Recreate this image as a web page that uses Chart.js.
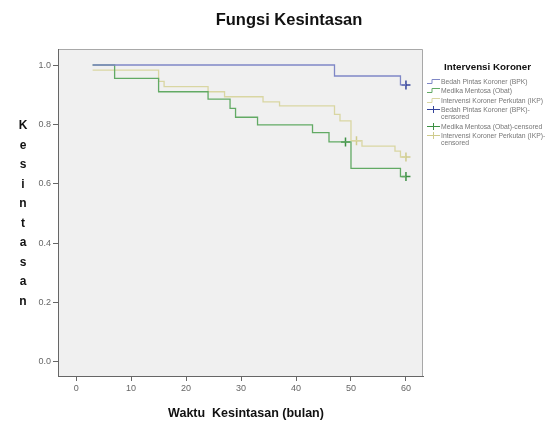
<!DOCTYPE html>
<html>
<head>
<meta charset="utf-8">
<script src="https://cdn.jsdelivr.net/npm/chart.js@4/dist/chart.umd.min.js"></script>
<style>
    body { margin: 0; background: #fff; font-family: "Liberation Sans", Arial, sans-serif; }
    #wrap { position: relative; width: 551px; height: 425px; }
    #legend { position: absolute; left: 427px; top: 60px; width: 124px; color: #777; font-size: 6.8px; }
    #legend .lg-title { font-weight: bold; font-size: 9.8px; color: #111; margin-left: 17px; height: 14px; line-height: 14px; margin-bottom: 3.5px; white-space: nowrap; }
    #legend .item { display: flex; align-items: flex-start; margin-bottom: 2.5px; line-height: 7px; }
    #legend .item span { max-width: 106px; }
    #legend svg { flex: none; margin-right: 0; }
</style>
</head>
<body>
<div id="wrap">
    <canvas id="km"></canvas>
    <div id="legend"></div>
</div>
<script>
// Waktu kesintasan (bulan) dan estimasi fungsi kesintasan per kelompok
const bpkTime = [3, 47, 59, 60];
const bpkSurv = [1.0, 0.963, 0.933, 0.933];
const obatTime = [3, 7, 15, 24, 28, 29, 33, 43, 46, 50, 59, 60];
const obatSurv = [1.0, 0.955, 0.91, 0.885, 0.854, 0.824, 0.798, 0.772, 0.741, 0.652, 0.624, 0.624];
const ikpTime = [3, 15, 16, 24, 27, 34, 37, 47, 48, 50, 52, 58, 59, 60];
const ikpSurv = [0.983, 0.945, 0.927, 0.91, 0.893, 0.876, 0.862, 0.834, 0.812, 0.745, 0.727, 0.71, 0.69, 0.69];

// titik tersensor
const bpkCensTime = [60];
const bpkCensSurv = [0.933];
const obatCensTime = [49, 60];
const obatCensSurv = [0.741, 0.624];
const ikpCensTime = [51, 60];
const ikpCensSurv = [0.745, 0.69];

const xTicks = [0, 10, 20, 30, 40, 50, 60];
const yTicks = [0.0, 0.2, 0.4, 0.6, 0.8, 1.0];

const groupLabels = ['Bedah Pintas Koroner (BPK)', 'Medika Mentosa (Obat)', 'Intervensi Koroner Perkutan (IKP)'];
const lineColors = ['#7f87c6', '#62aa64', '#d9d6a2'];
const censColors = ['#34439a', '#3d9044', '#cfcb8c'];

const toPoints = (xs, ys) => xs.map((x, i) => ({ x: x, y: ys[i] }));

const lineSets = [[bpkTime, bpkSurv], [obatTime, obatSurv], [ikpTime, ikpSurv]];
const censSets = [[bpkCensTime, bpkCensSurv], [obatCensTime, obatCensSurv], [ikpCensTime, ikpCensSurv]];

const datasets = [];
lineSets.forEach((s, i) => {
    datasets.push({
        label: groupLabels[i],
        data: toPoints(s[0], s[1]),
        showLine: true,
        stepped: true,
        borderColor: lineColors[i],
        borderWidth: 1.3,
        pointRadius: 0,
        fill: false
    });
});
censSets.forEach((s, i) => {
    datasets.push({
        label: groupLabels[i] + '-censored',
        data: toPoints(s[0], s[1]),
        showLine: false,
        pointStyle: 'cross',
        pointRadius: 4.5,
        borderColor: censColors[i],
        borderWidth: 1.5
    });
});

const frame = {
    id: 'frame',
    beforeDraw(chart) {
        const { ctx, chartArea: a } = chart;
        ctx.save();
        ctx.fillStyle = '#f0f0f0';
        ctx.fillRect(a.left, a.top, a.right - a.left, a.bottom - a.top);
        ctx.strokeStyle = '#a8a8a8';
        ctx.lineWidth = 1;
        ctx.beginPath();
        ctx.moveTo(a.left, a.top + 0.5);
        ctx.lineTo(a.right - 0.5, a.top + 0.5);
        ctx.lineTo(a.right - 0.5, a.bottom);
        ctx.stroke();
        ctx.restore();
    },
    afterDraw(chart) {
        const { ctx } = chart;
        ctx.save();
        ctx.fillStyle = '#111';
        ctx.textAlign = 'center';
        ctx.textBaseline = 'middle';
        ctx.font = 'bold 16.5px "Liberation Sans", Arial, sans-serif';
        ctx.fillText('Fungsi Kesintasan', 289, 20);
        ctx.font = 'bold 12.5px "Liberation Sans", Arial, sans-serif';
        ctx.fillText('Waktu  Kesintasan (bulan)', 246, 414);
        const letters = 'Kesintasan'.split('');
        ctx.font = 'bold 12px "Liberation Sans", Arial, sans-serif';
        letters.forEach((ch, i) => ctx.fillText(ch, 23, 126 + i * 19.5));
        ctx.restore();
    }
};

new Chart(document.getElementById('km'), {
    type: 'scatter',
    data: { datasets: datasets },
    options: {
        responsive: true,
        maintainAspectRatio: false,
        animation: false,
        layout: { padding: { left: 0, right: 128, top: 49, bottom: 0 } },
        plugins: { legend: { display: false }, tooltip: { enabled: false } },
        scales: {
            x: {
                type: 'linear',
                min: -3.3,
                max: 63.1,
                afterBuildTicks: s => { s.ticks = xTicks.map(v => ({ value: v })); },
                afterFit: s => { s.height = 49; },
                grid: { drawOnChartArea: false, drawTicks: true, tickLength: 5, color: '#666' },
                border: { color: '#666', width: 1 },
                ticks: { padding: 2, color: '#666', font: { size: 9, family: '"Liberation Sans", Arial' }, callback: v => String(v) }
            },
            y: {
                type: 'linear',
                min: -0.048,
                max: 1.054,
                afterBuildTicks: s => { s.ticks = yTicks.map(v => ({ value: v })); },
                afterFit: s => { s.width = 58; },
                grid: { drawOnChartArea: false, drawTicks: true, tickLength: 5, color: '#666' },
                border: { color: '#666', width: 1 },
                ticks: { padding: 2, color: '#666', font: { size: 9, family: '"Liberation Sans", Arial' }, callback: v => v.toFixed(1) }
            }
        }
    },
    plugins: [frame]
});

// legenda
const legend = document.getElementById('legend');
let html = '<div class="lg-title">Intervensi Koroner</div>';
groupLabels.forEach((lab, i) => {
    html += '<div class="item"><svg width="14" height="7"><polyline points="0,5.5 5,5.5 5,1.5 13,1.5" fill="none" stroke="' +
        lineColors[i] + '" stroke-width="1"/></svg><span>' + lab + '</span></div>';
});
groupLabels.forEach((lab, i) => {
    html += '<div class="item"><svg width="14" height="7"><line x1="0" y1="3.5" x2="13" y2="3.5" stroke="' + censColors[i] +
        '" stroke-width="1"/><line x1="6.5" y1="0" x2="6.5" y2="7" stroke="' + censColors[i] + '" stroke-width="1"/></svg><span>' +
        lab + '-censored</span></div>';
});
legend.innerHTML = html;
</script>
</body>
</html>
